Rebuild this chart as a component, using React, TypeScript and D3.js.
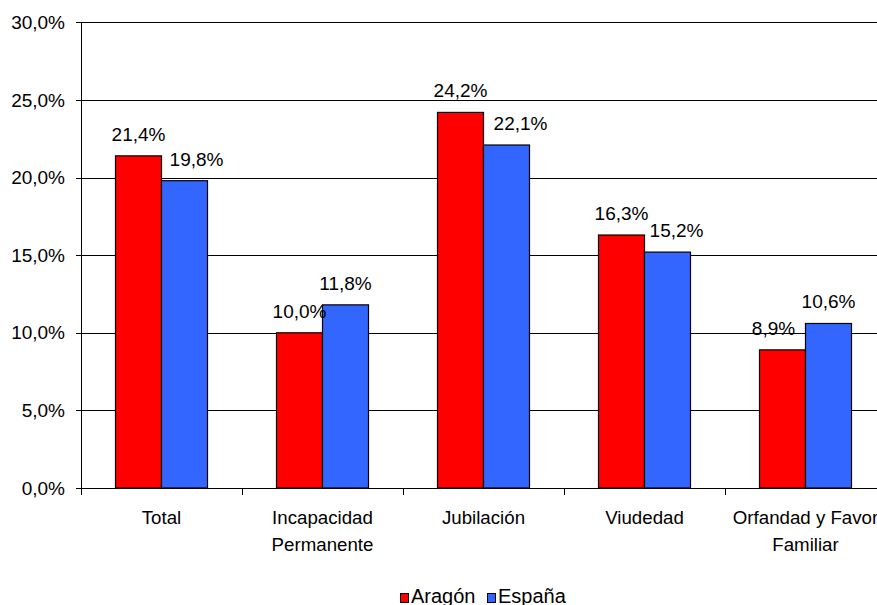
import React from "react";
import * as d3 from "d3";

const categories: string[][] = [
  ["Total"],
  ["Incapacidad", "Permanente"],
  ["Jubilación"],
  ["Viudedad"],
  ["Orfandad y Favor", "Familiar"],
];
const categoryKeys = ["Total", "Incapacidad Permanente", "Jubilación", "Viudedad", "Orfandad y Favor Familiar"];
const seriesNames = ["Aragón", "España"];
const aragon = [21.4, 10.0, 24.2, 16.3, 8.9];
const espana = [19.8, 11.8, 22.1, 15.2, 10.6];
const yTicks = [0, 5, 10, 15, 20, 25, 30];
const colors = ["#FF0000", "#3366FF"];

const W = 877;
const H = 605;
const FONT = "'Liberation Sans', Arial, Helvetica, sans-serif";

const fmt = (v: number) => v.toFixed(1).replace(".", ",") + "%";

export default function App() {
  const left = 81;
  const right = 886;
  const top = 22.4;
  const bottom = 488;

  // layout: horizontal nudges of data labels (as placed in the original chart)
  const labelNudge: number[][] = [
    [0, 12],
    [0, 0],
    [0, 14],
    [0, 9],
    [-9, 0],
  ];

  const x = d3.scaleBand<string>().domain(categoryKeys).range([left, right]).padding(0);
  const inner = d3
    .scaleBand<string>()
    .domain(seriesNames)
    .range([0, x.bandwidth()])
    .paddingInner(0)
    .paddingOuter(0.75);
  const y = d3.scaleLinear().domain([0, 30]).range([bottom, top]);

  const series = [aragon, espana];
  const boundaries = categoryKeys.map((k) => x(k)!).concat([right]);

  return (
    <svg
      width={W}
      height={H}
      style={{ position: "absolute", left: 0, top: 0, background: "#fff" }}
      fontFamily={FONT}
    >
      <rect x={0} y={0} width={W} height={H} fill="#fff" />
      {/* gridlines */}
      {yTicks.map((t) => (
        <line key={t} x1={left} x2={right} y1={Math.round(y(t)) + 0.5} y2={Math.round(y(t)) + 0.5} stroke="#000" strokeWidth={1} />
      ))}
      {/* y axis */}
      <line x1={left + 0.5} x2={left + 0.5} y1={Math.round(y(30))} y2={bottom + 6} stroke="#000" />
      {yTicks.map((t) => (
        <g key={"yt" + t}>
          <line x1={left - 5} x2={left} y1={Math.round(y(t)) + 0.5} y2={Math.round(y(t)) + 0.5} stroke="#000" />
          <text x={65} y={y(t)} textAnchor="end" dominantBaseline="central" fontSize={19} fill="#000">
            {fmt(t)}
          </text>
        </g>
      ))}
      {/* x ticks */}
      {boundaries.map((b, i) => (
        <line key={"xt" + i} x1={Math.round(b) + 0.5} x2={Math.round(b) + 0.5} y1={bottom} y2={bottom + 7} stroke="#000" />
      ))}
      {/* bars */}
      {categoryKeys.map((k, ci) =>
        seriesNames.map((s, si) => {
          const v = series[si][ci];
          const bx = x(k)! + inner(s)!;
          const by = y(v);
          return (
            <rect
              key={k + s}
              x={bx}
              y={by}
              width={inner.bandwidth()}
              height={bottom - by}
              fill={colors[si]}
              stroke="#000"
              strokeWidth={1.2}
            />
          );
        })
      )}
      {/* data labels */}
      {categoryKeys.map((k, ci) =>
        seriesNames.map((s, si) => {
          const v = series[si][ci];
          const cx = x(k)! + inner(s)! + inner.bandwidth() / 2 + labelNudge[ci][si];
          return (
            <text key={"l" + k + s} x={cx} y={y(v) - 15} textAnchor="middle" fontSize={19} fill="#000">
              {fmt(v)}
            </text>
          );
        })
      )}
      {/* category labels */}
      {categoryKeys.map((k, ci) => (
        <text key={"c" + k} x={x(k)! + x.bandwidth() / 2} textAnchor="middle" fontSize={18.7} fill="#000">
          {categories[ci].map((line, li) => (
            <tspan key={li} x={x(k)! + x.bandwidth() / 2} y={524 + li * 26.5}>
              {line}
            </tspan>
          ))}
        </text>
      ))}
      {/* legend */}
      <rect x={400.5} y={593.5} width={8} height={9} fill={colors[0]} stroke="#000" />
      <text x={411} y={602.5} fontSize={20} fill="#000">{seriesNames[0]}</text>
      <rect x={487.5} y={593.5} width={8} height={9} fill={colors[1]} stroke="#000" />
      <text x={498} y={602.5} fontSize={20} fill="#000">{seriesNames[1]}</text>
    </svg>
  );
}
